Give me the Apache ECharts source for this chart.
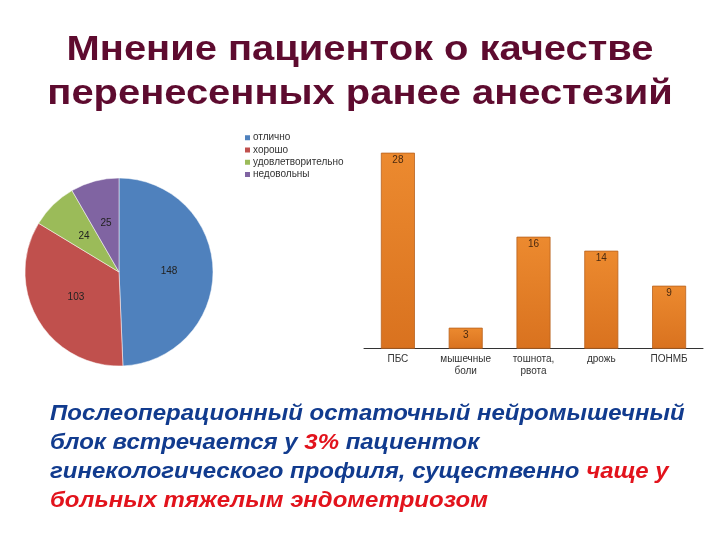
<!DOCTYPE html>
<html><head><meta charset="utf-8">
<script src="https://cdn.jsdelivr.net/npm/echarts@6/dist/echarts.min.js"></script>
<style>html,body{margin:0;padding:0;background:#fff}#c{width:720px;height:540px}</style>
</head><body><div id="c"></div>
<script>
const pieNames = ['отлично','хорошо','удовлетворительно','недовольны'];
const pieValues = [148, 103, 24, 25];
const pieColors = ['#4F81BD','#C0504D','#9BBB59','#8064A2'];
const barCategories = ['ПБС','мышечные\nболи','тошнота,\nрвота','дрожь','ПОНМБ'];
const barValues = [28, 3, 16, 14, 9];
const titleLines = ['Мнение пациенток о качестве','перенесенных ранее анестезий'];

const chart = echarts.init(document.getElementById('c'), null, {renderer:'canvas'});
const blue = '#113B8E', red = '#E2131C';
const titleStyle = {fontFamily:'Liberation Sans', fontWeight:'bold', fontSize:35, fill:'#5E0B2F', align:'center', verticalAlign:'middle'};
chart.setOption({
  backgroundColor:'#fff',
  animation:false,
  legend:{
    orient:'vertical', left:238, top:126.5, itemWidth:7, itemHeight:7, itemGap:0,
    icon:'rect',
    data:pieNames,
    textStyle:{fontFamily:'Liberation Sans', fontSize:10, lineHeight:12.3, color:'#333', padding:[0,0,0,-3]}
  },
  grid:{left:364, right:17, top:152.7, bottom:191.3},
  xAxis:{
    type:'category', data:barCategories,
    axisLine:{lineStyle:{color:'#333', width:1}},
    axisTick:{show:false},
    axisLabel:{fontFamily:'Liberation Sans', fontSize:10, color:'#333', lineHeight:12, margin:5, interval:0}
  },
  yAxis:{type:'value', min:0, max:28, show:false, splitLine:{show:false}},
  series:[
    {
      type:'pie', center:[119,272], radius:[0,94], startAngle:90, clockwise:true,
      data:pieNames.map((n,i)=>({name:n, value:pieValues[i], itemStyle:{color:pieColors[i]}})),
      label:{position:'inside', formatter:'{c}', fontFamily:'Liberation Sans', fontSize:10, color:'#222'},
      labelLine:{show:false},
      itemStyle:{borderColor:'#fff', borderWidth:0.5}
    },
    {
      type:'bar', data:barValues, barWidth:34,
      itemStyle:{
        color:new echarts.graphic.LinearGradient(0,0,0,1,[{offset:0,color:'#EC8A2F'},{offset:1,color:'#D9721F'}]),
        borderColor:'#B9621E', borderWidth:0.8
      },
      label:{show:true, position:'insideTop', distance:3, fontFamily:'Liberation Sans', fontSize:10, color:'#4a2a10'}
    }
  ],
  graphic:[
    {type:'text', x:360, y:50, scaleX:1.14, style:Object.assign({text:titleLines[0]}, titleStyle)},
    {type:'text', x:360, y:94, scaleX:1.14, style:Object.assign({text:titleLines[1]}, titleStyle)},
    {
      type:'text', x:50, y:399.5, scaleX:1.09,
      style:{
        verticalAlign:'top',
        rich:{
          b:{fontFamily:'Liberation Sans', fontStyle:'italic', fontWeight:'bold', fontSize:22, fill:blue, lineHeight:29},
          r:{fontFamily:'Liberation Sans', fontStyle:'italic', fontWeight:'bold', fontSize:22, fill:red, lineHeight:29}
        },
        text:'{b|Послеоперационный остаточный нейромышечный}\n{b|блок встречается у }{r|3%}{b| пациенток}\n{b|гинекологического профиля, существенно }{r|чаще у}\n{r|больных тяжелым эндометриозом}'
      }
    }
  ]
});
</script></body></html>
